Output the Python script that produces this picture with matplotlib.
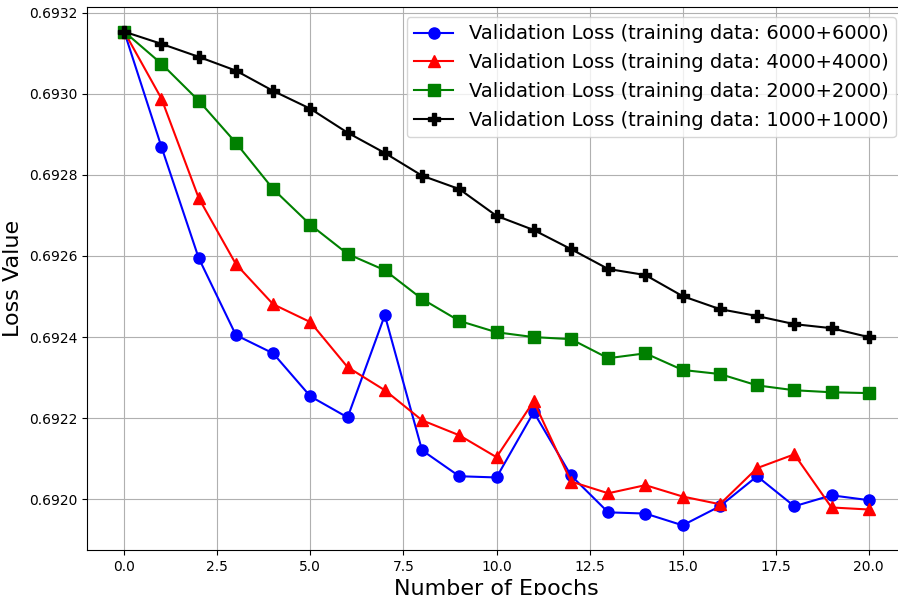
import matplotlib
matplotlib.use("Agg")
import matplotlib.pyplot as plt

epochs = list(range(21))

loss_6000 = [0.693153, 0.692869, 0.692595, 0.692405, 0.692360, 0.692254, 0.692202,
             0.692454, 0.692121, 0.692057, 0.692054, 0.692215, 0.692059, 0.691968,
             0.691965, 0.691936, 0.691983, 0.692057, 0.691983, 0.692010, 0.691998]
loss_4000 = [0.693153, 0.692988, 0.692743, 0.692580, 0.692481, 0.692437, 0.692326,
             0.692269, 0.692195, 0.692158, 0.692104, 0.692242, 0.692044, 0.692015,
             0.692035, 0.692007, 0.691988, 0.692077, 0.692111, 0.691980, 0.691975]
loss_2000 = [0.693153, 0.693074, 0.692983, 0.692879, 0.692765, 0.692677, 0.692605,
             0.692565, 0.692494, 0.692440, 0.692412, 0.692400, 0.692395, 0.692348,
             0.692360, 0.692319, 0.692309, 0.692281, 0.692269, 0.692264, 0.692262]
loss_1000 = [0.693153, 0.693123, 0.693091, 0.693057, 0.693007, 0.692963, 0.692904,
             0.692854, 0.692798, 0.692765, 0.692699, 0.692664, 0.692617, 0.692568,
             0.692553, 0.692501, 0.692469, 0.692452, 0.692432, 0.692422, 0.692400]

labels = [
    "Validation Loss (training data: 6000+6000)",
    "Validation Loss (training data: 4000+4000)",
    "Validation Loss (training data: 2000+2000)",
    "Validation Loss (training data: 1000+1000)",
]

fig = plt.figure(figsize=(8.98, 5.95), dpi=100)
# the original image is cropped on the right, so the axes run past the edge
ax = fig.add_axes([87 / 898, 45 / 595, 819 / 898, 543 / 595])
ax.plot(epochs, loss_6000, "o-", color="blue", markersize=8, label=labels[0])
ax.plot(epochs, loss_4000, "^-", color="red", markersize=8, label=labels[1])
ax.plot(epochs, loss_2000, "s-", color="green", markersize=8, label=labels[2])
ax.plot(epochs, loss_1000, "P-", color="black", markersize=8, label=labels[3])

ax.set_xlabel("Number of Epochs", fontsize=16)
ax.set_ylabel("Loss Value", fontsize=16)
ax.set_yticks([0.6920, 0.6922, 0.6924, 0.6926, 0.6928, 0.6930, 0.6932])
ax.set_yticklabels(["0.6920", "0.6922", "0.6924", "0.6926", "0.6928", "0.6930", "0.6932"])
ax.grid(True)
ax.legend(fontsize=14, loc="upper right")

fig.savefig("out.png", dpi=100)
